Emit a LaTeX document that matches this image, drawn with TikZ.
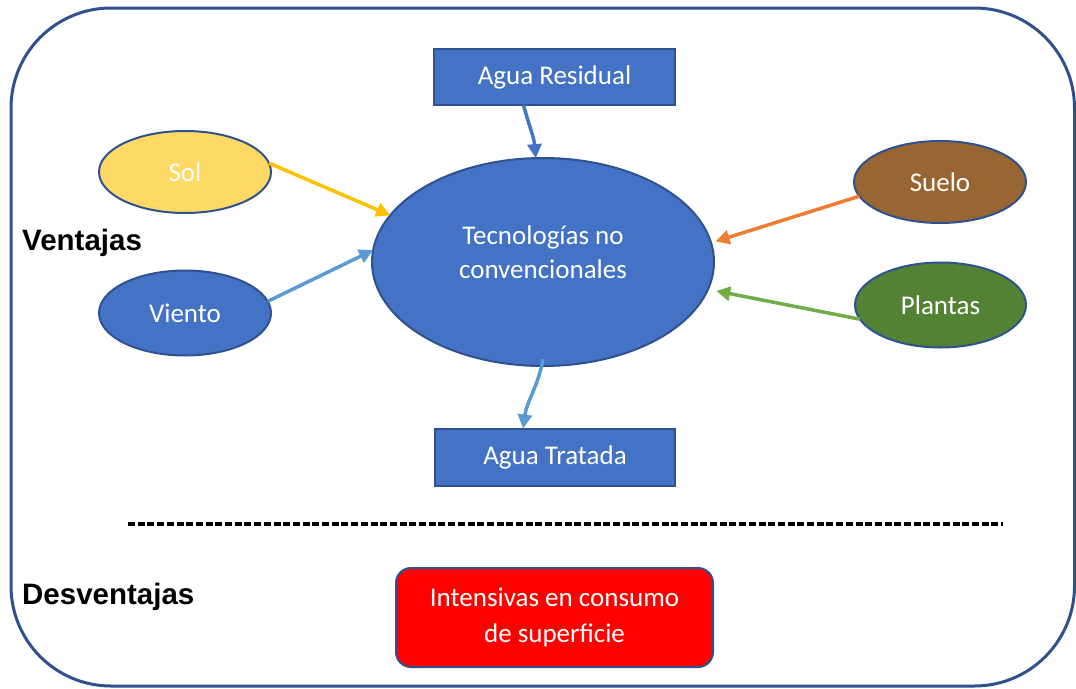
\documentclass[tikz,border=0pt]{standalone}
\usepackage{fontspec}
\setmainfont{Carlito}
\newfontfamily\labfont{Liberation Sans}
\usetikzlibrary{shapes.geometric,arrows.meta}
\definecolor{mblue}{HTML}{4472C4}
\definecolor{dblue}{HTML}{2F528F}
\definecolor{sol}{HTML}{FFD966}
\definecolor{suelo}{RGB}{153,102,51}
\definecolor{plantas}{HTML}{548235}
\definecolor{agold}{HTML}{FFC000}
\definecolor{alblue}{HTML}{5B9BD5}
\definecolor{aorange}{HTML}{ED7D31}
\definecolor{agreen}{HTML}{70AD47}
\tikzset{
  txt/.style={font=\fontsize{27}{34}\selectfont, text=white, align=center},
  ell/.style={ellipse, draw=dblue, line width=2pt, inner sep=0pt, outer sep=0pt, txt},
  boxnode/.style={rectangle, draw=dblue, line width=2pt, fill=mblue, inner sep=0pt, outer sep=0pt, txt},
  arr/.style={line width=3.5pt, -{Triangle[length=14pt,width=14pt]}},
  lab/.style={font=\labfont\bfseries\fontsize{29.5}{34}\selectfont, anchor=west, inner sep=0pt}
}
\begin{document}
\begin{tikzpicture}[x=1pt,y=-1pt]
\useasboundingbox (0,0) rectangle (1076,688);
\draw[dblue, line width=3pt, rounded corners=100pt] (11,8) rectangle (1074.5,686);

\node[boxnode, minimum width=241pt, minimum height=56pt] (res) at (554.5,77) {Agua Residual};
\node[ell, fill=mblue, minimum width=342pt, minimum height=208pt, text depth=20pt] (tec) at (543,262) {Tecnologías no\\convencionales};
\node[boxnode, minimum width=240pt, minimum height=57pt] (trat) at (555,457) {Agua Tratada};

\node[ell, fill=sol, minimum width=172pt, minimum height=82pt] (sol) at (185,172) {Sol};
\node[ell, fill=mblue, minimum width=172pt, minimum height=85pt] (viento) at (185,313) {Viento};
\node[ell, fill=suelo, minimum width=172pt, minimum height=82pt] (suelo) at (940,182) {Suelo};
\node[ell, fill=plantas, minimum width=171pt, minimum height=85pt] (plantas) at (940.5,305) {Plantas};

\node[lab] (vent) at (22,243) {Ventajas};
\node[lab] (desv) at (22,597) {Desventajas};

\coordinate (dl) at (128,524);
\coordinate (dr) at (1003,524);
\draw[line width=4pt, dash pattern=on 7pt off 2.7pt] (dl) -- (dr);

\node[draw=dblue, line width=2pt, fill=red, rounded corners=15pt, minimum width=317pt, minimum height=99pt, inner sep=0pt, txt, font=\fontsize{27}{36}\selectfont] (int) at (554.5,617.5) {Intensivas en consumo\\de superficie};

\draw[arr, mblue] ([xshift=-31pt]res.south) to[out=-75,in=95] (tec.94);
\draw[arr, agold] (sol.6) -- (tec.163);
\draw[arr, alblue] (viento.8) -- (tec.176);
\draw[arr, aorange] (suelo.190) -- ([xshift=5pt]tec.7);
\draw[arr, agreen] (plantas.190) -- ([xshift=9pt]tec.-10);
\draw[arr, alblue] ([yshift=7pt]tec.south) to[out=-100,in=82] ([xshift=-32pt]trat.north);
\end{tikzpicture}
\end{document}
